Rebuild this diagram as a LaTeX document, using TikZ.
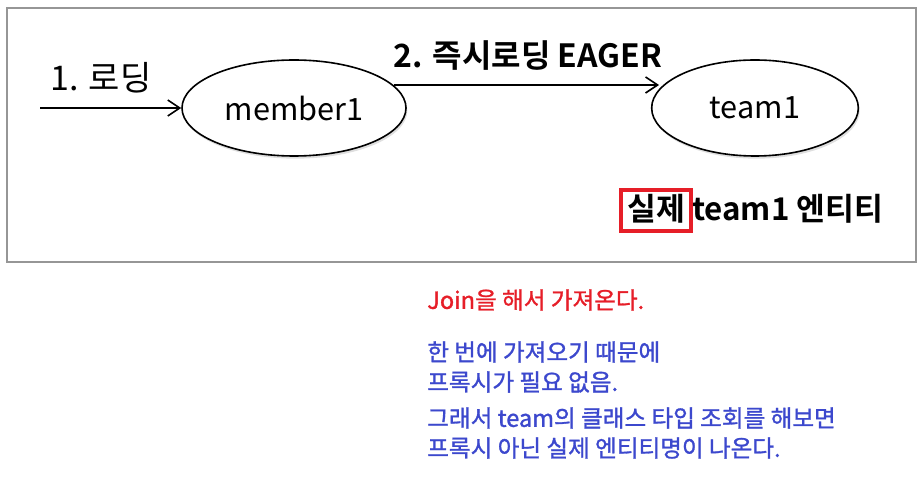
\documentclass[tikz,border=0pt]{standalone}
\usepackage{fontspec}
\setmainfont{Noto Sans CJK KR}
\newfontfamily\krbold{Noto Sans CJK KR Bold}
\newfontfamily\krnote[FakeBold=1.2]{Noto Sans CJK KR}
\usetikzlibrary{shapes.geometric,arrows.meta,shadows}
\definecolor{framegray}{RGB}{150,150,150}
\definecolor{notered}{RGB}{230,30,40}
\definecolor{noteblue}{RGB}{60,72,205}
\definecolor{boxred}{RGB}{230,30,40}
\tikzset{
  ent/.style={ellipse,draw,line width=1.2pt,fill=white,minimum width=#1,minimum height=72pt,inner sep=0pt,font=\fontsize{23}{26}\selectfont,
    drop shadow={opacity=0.25,shadow xshift=1pt,shadow yshift=-2pt}},
  conn/.style={-{Straight Barb[length=9pt,width=12pt,line width=1.2pt]},line width=1.2pt},
  note/.style={anchor=west,font=\krnote\fontsize{17.7}{20}\selectfont,inner sep=0pt},
}
\begin{document}
\begin{tikzpicture}[x=0.75pt,y=-0.75pt]
\useasboundingbox (0,0) rectangle (921,477);
\node[draw=framegray,line width=1.2pt,minimum width=681.75pt,minimum height=190.5pt,inner sep=0pt] (frame) at (461.5,135) {};
\node[ent=168pt] (m) at (294,108) {member1};
\node[ent=155pt] (t) at (755,108) {team1};
\coordinate (start) at (40,108);
\draw[conn] (start) -- (m.west);
\node[font=\fontsize{25.5}{28}\selectfont,inner sep=0pt] (l1) at (101,78) {1. 로딩};
\coordinate (a2) at (394,85);
\coordinate (b2) at (659,85);
\draw[conn] (a2) -- (b2);
\node[font=\krbold\fontsize{24}{28}\selectfont,inner sep=0pt] (l2) at (528,56) {2. 즉시로딩 EAGER};
\node[font=\krbold\fontsize{23.5}{28}\selectfont,inner sep=0pt,anchor=west] (real) at (627,209) {실제 team1 엔티티};
\draw[boxred,line width=2.7pt] (621,190) rectangle (691,231);
\node[note,text=notered] (n1) at (427,300) {Join을 해서 가져온다.};
\node[note,text=noteblue] (n2) at (427,352) {한 번에 가져오기 때문에};
\node[note,text=noteblue] (n3) at (427,382) {프록시가 필요 없음.};
\node[note,text=noteblue] (n4) at (427,418) {그래서 team의 클래스 타입 조회를 해보면};
\node[note,text=noteblue] (n5) at (427,448) {프록시 아닌 실제 엔티티명이 나온다.};
\end{tikzpicture}
\end{document}
